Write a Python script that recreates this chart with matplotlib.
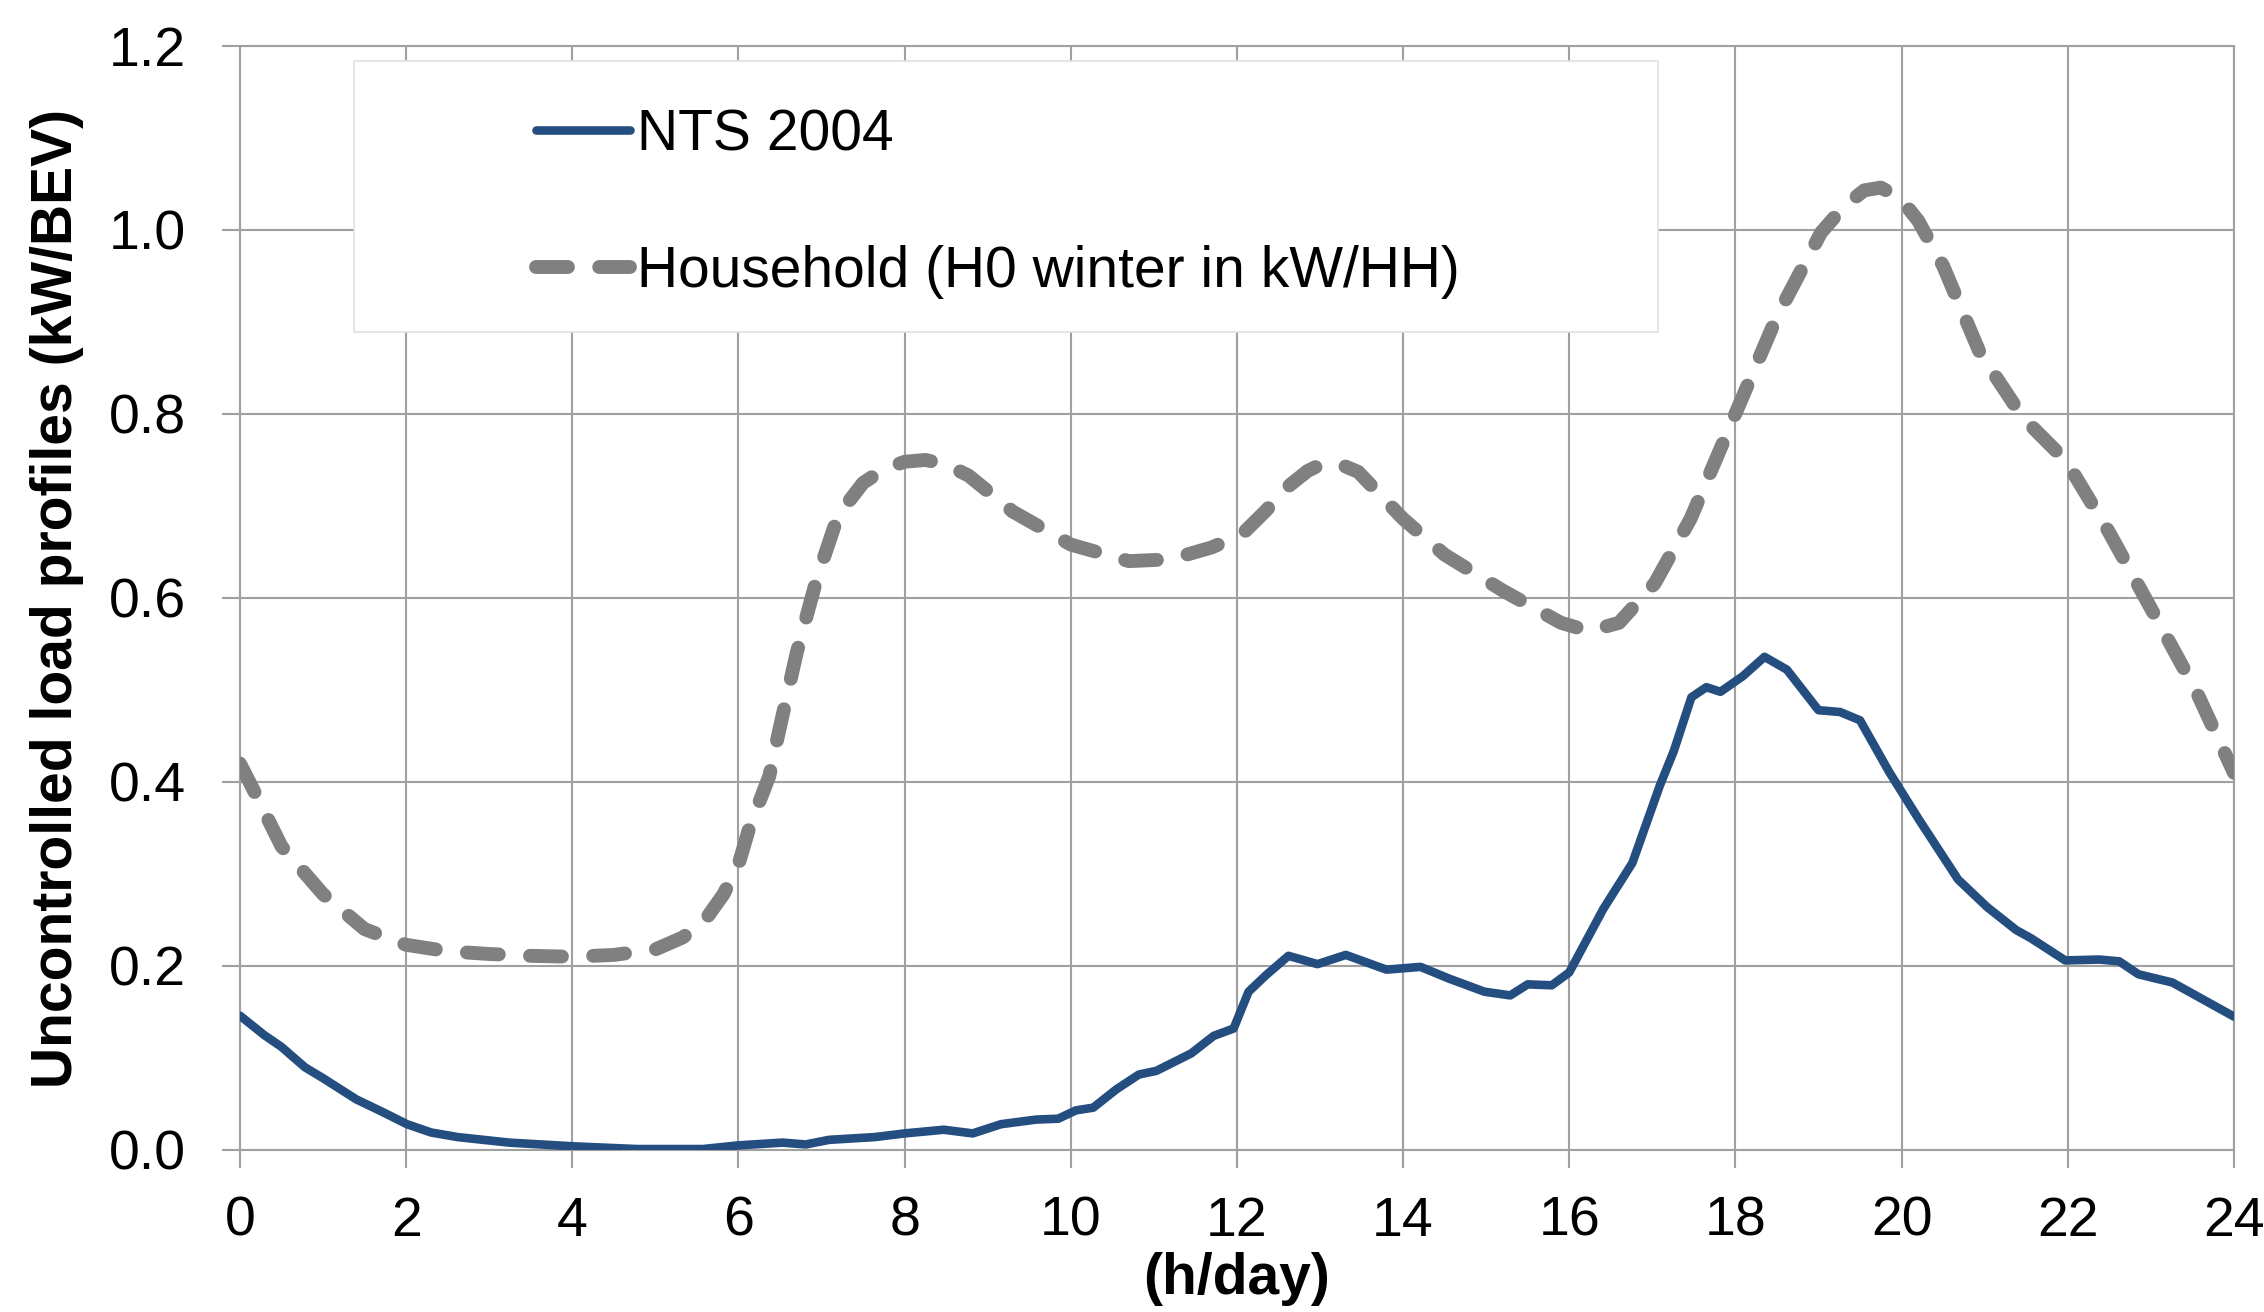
import matplotlib.pyplot as plt
from matplotlib.patches import Rectangle

plt.rcParams['font.family'] = ['Liberation Sans', 'DejaVu Sans']

# NTS 2004 uncontrolled charging profile (kW/BEV)
nts_hours = [0, 0.29, 0.5, 0.78, 1.0, 1.4, 1.7, 2.01, 2.3, 2.62, 3.24, 4, 4.78, 5.57,
             6, 6.53, 6.81, 7.09, 7.64, 8, 8.47, 8.82, 9.16, 9.58, 9.85, 10.06, 10.27,
             10.55, 10.82, 11.03, 11.45, 11.72, 11.96, 12.14, 12.35, 12.62, 12.97, 13.31,
             13.8, 14.21, 14.56, 14.98, 15.29, 15.5, 15.79, 16, 16.41, 16.76, 17.09, 17.26,
             17.47, 17.65, 17.82, 18.09, 18.35, 18.62, 19, 19.26, 19.5, 19.85, 20.21,
             20.68, 21.03, 21.38, 21.56, 21.97, 22.38, 22.62, 22.85, 23.26, 23.5, 24]
nts_load = [0.146, 0.125, 0.112, 0.09, 0.078, 0.055, 0.042, 0.028, 0.019, 0.014, 0.008,
            0.004, 0.001, 0.001, 0.005, 0.008, 0.006, 0.011, 0.014, 0.018, 0.022, 0.018,
            0.028, 0.033, 0.034, 0.043, 0.046, 0.066, 0.082, 0.086, 0.105, 0.124, 0.132,
            0.172, 0.19, 0.211, 0.202, 0.212, 0.196, 0.199, 0.186, 0.172, 0.168, 0.18,
            0.179, 0.193, 0.262, 0.312, 0.396, 0.434, 0.492, 0.503, 0.498, 0.515, 0.536,
            0.522, 0.478, 0.476, 0.467, 0.411, 0.359, 0.294, 0.264, 0.239, 0.23, 0.206,
            0.207, 0.205, 0.191, 0.182, 0.17, 0.145]

# household H0 winter profile (kW/HH)
hh_hours = [0, 0.17, 0.5, 1.0, 1.5, 2.0, 2.5, 3, 3.5, 4, 4.5, 5, 5.33, 5.6, 5.82, 6,
            6.13, 6.37, 6.5, 6.7, 6.94, 7.2, 7.5, 7.75, 8, 8.25, 8.5, 8.77, 9.3, 10,
            10.7, 11.2, 11.7, 12.07, 12.35, 12.6, 12.85, 13.03, 13.25, 13.46, 14, 14.5,
            15.2, 15.9, 16.24, 16.6, 17.03, 17.46, 17.98, 18.5, 19.03, 19.3, 19.55,
            19.75, 19.98, 20.2, 20.5, 20.94, 21.46, 21.98, 22.5, 23.03, 23.55, 24]
hh_load = [0.42, 0.39, 0.33, 0.278, 0.24, 0.223, 0.216, 0.213, 0.211, 0.21, 0.212,
           0.218, 0.231, 0.25, 0.278, 0.31, 0.35, 0.406, 0.46, 0.54, 0.62, 0.69, 0.725,
           0.74, 0.748, 0.75, 0.745, 0.733, 0.694, 0.658, 0.64, 0.642, 0.655, 0.67,
           0.695, 0.72, 0.738, 0.746, 0.745, 0.737, 0.686, 0.647, 0.608, 0.573, 0.564,
           0.573, 0.616, 0.686, 0.796, 0.906, 0.997, 1.025, 1.043, 1.046, 1.035, 1.01,
           0.961, 0.867, 0.796, 0.749, 0.671, 0.584, 0.498, 0.41]

x_ticks = list(range(0, 25, 2))
y_ticks = [0.0, 0.2, 0.4, 0.6, 0.8, 1.0, 1.2]

fig = plt.figure(figsize=(22.64, 13.12), dpi=100)
ax = fig.add_axes([0.106, 0.1235, 0.8807, 0.8415])

grid_col = '#A0A0A0'
ax.plot(nts_hours, nts_load, color='#244D80', lw=6.2, label='NTS 2004',
        solid_joinstyle='round', solid_capstyle='round', zorder=3)
ax.plot(hh_hours, hh_load, color='#808080', lw=10, dashes=(2.3, 2.25),
        dash_capstyle='round', dash_joinstyle='round',
        label='Household (H0 winter in kW/HH)', zorder=3)

ax.set_xlim(0, 24)
ax.set_ylim(0, 1.2)
ax.set_xticks(x_ticks)
ax.set_yticks(y_ticks)
ax.set_yticklabels([f'{v:.1f}' for v in y_ticks])
ax.grid(True, color=grid_col, lw=1.5)
ax.set_axisbelow(True)
for s in ax.spines.values():
    s.set_color(grid_col)
    s.set_linewidth(1.5)
ax.tick_params(direction='out', length=13, width=1.5, color=grid_col, labelsize=40)
ax.tick_params(axis='x', pad=20)
ax.tick_params(axis='y', pad=26)

ax.set_xlabel('(h/day)', fontsize=41, fontweight='bold', labelpad=3)
ax.set_ylabel('Uncontrolled load profiles (kW/BEV)', fontsize=41,
              fontweight='bold', labelpad=18)

# legend box (white, thin light border)
box = Rectangle((0.057, 0.7405), 0.654, 0.2455, transform=ax.transAxes,
                facecolor='white', edgecolor='#E0E0E0', lw=1.2, zorder=4)
ax.add_patch(box)
leg = ax.legend(loc='upper left', bbox_to_anchor=(0.1485, 0.9435), frameon=False,
                fontsize=41, handlelength=1.65, handletextpad=0.12,
                labelspacing=1.45, borderpad=0, borderaxespad=0)
leg.set_zorder(5)

fig.savefig('out.png', dpi=100)
